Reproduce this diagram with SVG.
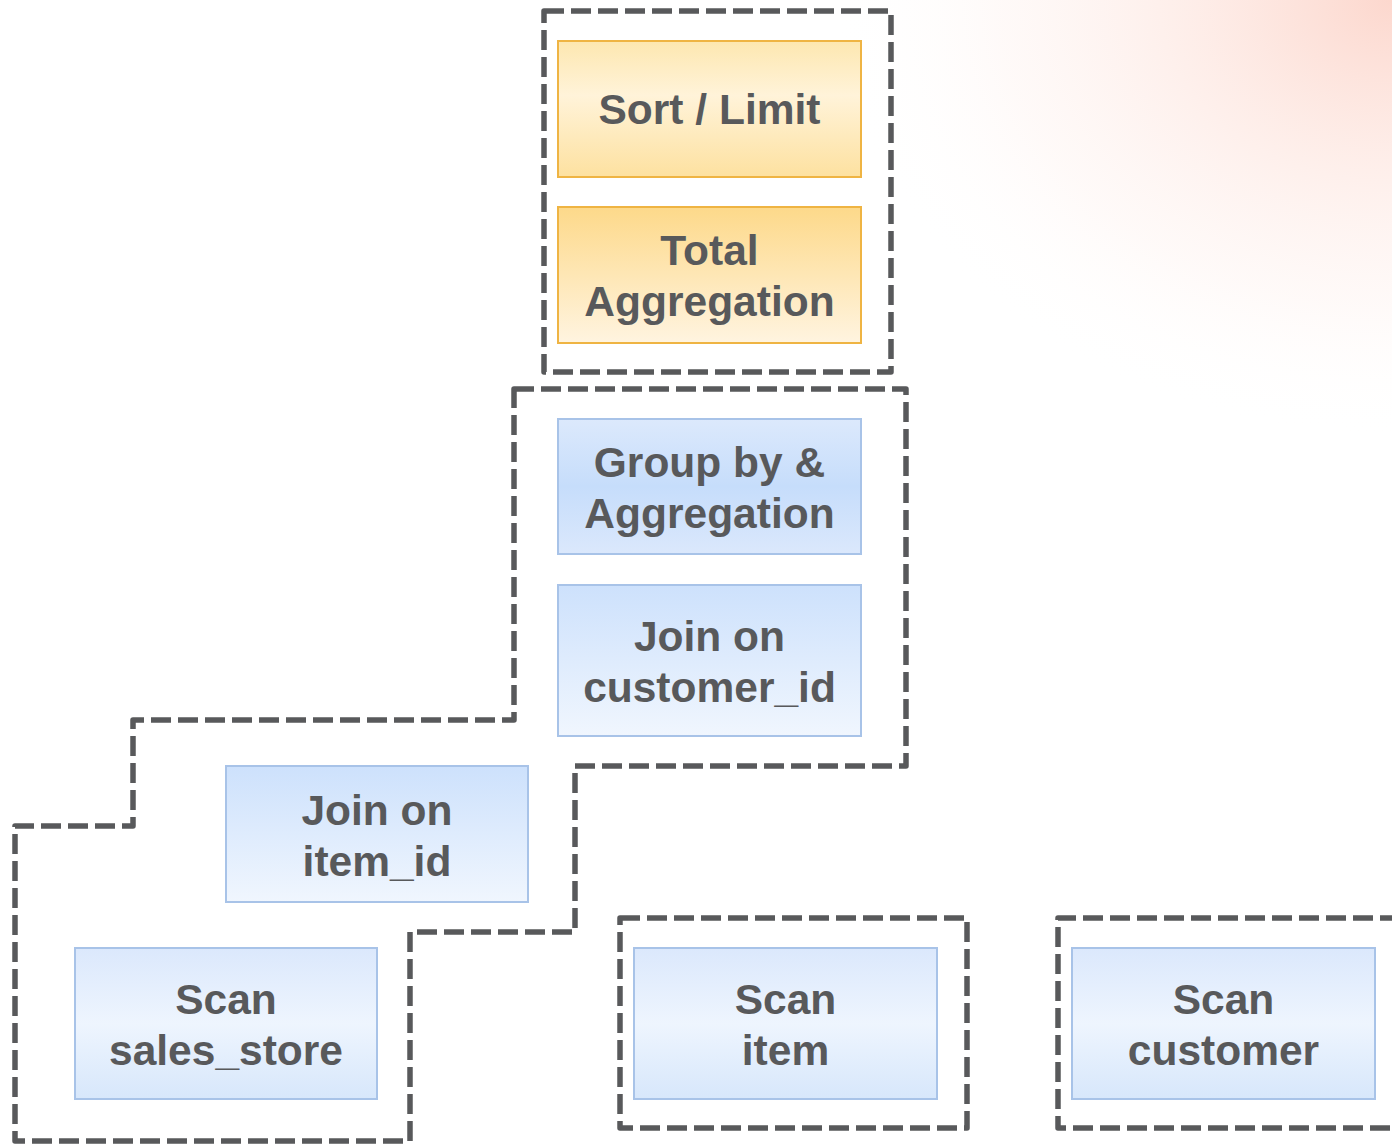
<svg xmlns="http://www.w3.org/2000/svg" width="1392" height="1146" viewBox="0 0 1392 1146">
  <defs>
    <radialGradient id="haze" cx="1392" cy="0" r="560" gradientUnits="userSpaceOnUse" gradientTransform="translate(1392 0) scale(1 0.78) translate(-1392 0)">
      <stop offset="0" stop-color="#fcd3c8" stop-opacity="0.9"/>
      <stop offset="0.35" stop-color="#fde1d9" stop-opacity="0.6"/>
      <stop offset="0.7" stop-color="#fef0ec" stop-opacity="0.35"/>
      <stop offset="1" stop-color="#ffffff" stop-opacity="0"/>
    </radialGradient>
    <linearGradient id="gOrangeMid" x1="0" y1="0" x2="0" y2="1">
      <stop offset="0" stop-color="#fde7b0"/>
      <stop offset="0.4" stop-color="#fff3d9"/>
      <stop offset="1" stop-color="#fde1a0"/>
    </linearGradient>
    <linearGradient id="gOrangeDown" x1="0" y1="0" x2="0" y2="1">
      <stop offset="0" stop-color="#fdd98a"/>
      <stop offset="1" stop-color="#fff4e0"/>
    </linearGradient>
    <linearGradient id="gBlueMid" x1="0" y1="0" x2="0" y2="1">
      <stop offset="0" stop-color="#dce9fc"/>
      <stop offset="0.5" stop-color="#c6ddfb"/>
      <stop offset="1" stop-color="#dbe8fc"/>
    </linearGradient>
    <linearGradient id="gBlueDown" x1="0" y1="0" x2="0" y2="1">
      <stop offset="0" stop-color="#cde1fc"/>
      <stop offset="1" stop-color="#f0f6fe"/>
    </linearGradient>
    <linearGradient id="gBlueScan" x1="0" y1="0" x2="0" y2="1">
      <stop offset="0" stop-color="#dbe8fc"/>
      <stop offset="0.5" stop-color="#eef5fe"/>
      <stop offset="1" stop-color="#d7e7fb"/>
    </linearGradient>
    <style>
      .stage { fill: none; stroke: #58595b; stroke-width: 5.5; stroke-dasharray: 20 7; stroke-linejoin: round; }
      .op-orange { stroke: #efb443; stroke-width: 2; }
      .op-blue { stroke: #a8c3e8; stroke-width: 2; }
      .label { font-family: "Liberation Sans", Arial, sans-serif; font-weight: bold; font-size: 42.5px; fill: #58595b; text-anchor: middle; }
    </style>
  </defs>

  <!-- background -->
  <rect x="0" y="0" width="1392" height="1146" fill="#ffffff"/>
  <rect x="780" y="0" width="612" height="470" fill="url(#haze)"/>

  <!-- stage outlines -->
  <g id="stages">
    <rect class="stage" x="544" y="11" width="347" height="361"/>
    <path class="stage" d="M514 389 H906 V766 H575 V932 H410 V1141 H15 V826 H133 V720 H514 Z"/>
    <rect class="stage" x="620" y="918" width="347" height="210"/>
    <path class="stage" d="M1400 918 H1058 V1128 H1400"/>
  </g>

  <!-- operators -->
  <g id="sort-limit">
    <rect class="op-orange" x="558" y="41" width="303" height="136" fill="url(#gOrangeMid)"/>
    <text class="label" x="709.5" y="124">Sort / Limit</text>
  </g>
  <g id="total-aggregation">
    <rect class="op-orange" x="558" y="207" width="303" height="136" fill="url(#gOrangeDown)"/>
    <text class="label" x="709.5" y="265">Total</text>
    <text class="label" x="709.5" y="316">Aggregation</text>
  </g>
  <g id="group-by-aggregation">
    <rect class="op-blue" x="558" y="419" width="303" height="135" fill="url(#gBlueMid)"/>
    <text class="label" x="709.5" y="477">Group by &amp;</text>
    <text class="label" x="709.5" y="528">Aggregation</text>
  </g>
  <g id="join-customer-id">
    <rect class="op-blue" x="558" y="585" width="303" height="151" fill="url(#gBlueDown)"/>
    <text class="label" x="709.5" y="651">Join on</text>
    <text class="label" x="709.5" y="702">customer_id</text>
  </g>
  <g id="join-item-id">
    <rect class="op-blue" x="226" y="766" width="302" height="136" fill="url(#gBlueDown)"/>
    <text class="label" x="377" y="825">Join on</text>
    <text class="label" x="377" y="876">item_id</text>
  </g>
  <g id="scan-sales-store">
    <rect class="op-blue" x="75" y="948" width="302" height="151" fill="url(#gBlueScan)"/>
    <text class="label" x="226" y="1014">Scan</text>
    <text class="label" x="226" y="1065">sales_store</text>
  </g>
  <g id="scan-item">
    <rect class="op-blue" x="634" y="948" width="303" height="151" fill="url(#gBlueScan)"/>
    <text class="label" x="785.5" y="1014">Scan</text>
    <text class="label" x="785.5" y="1065">item</text>
  </g>
  <g id="scan-customer">
    <rect class="op-blue" x="1072" y="948" width="303" height="151" fill="url(#gBlueScan)"/>
    <text class="label" x="1223.5" y="1014">Scan</text>
    <text class="label" x="1223.5" y="1065">customer</text>
  </g>
</svg>
